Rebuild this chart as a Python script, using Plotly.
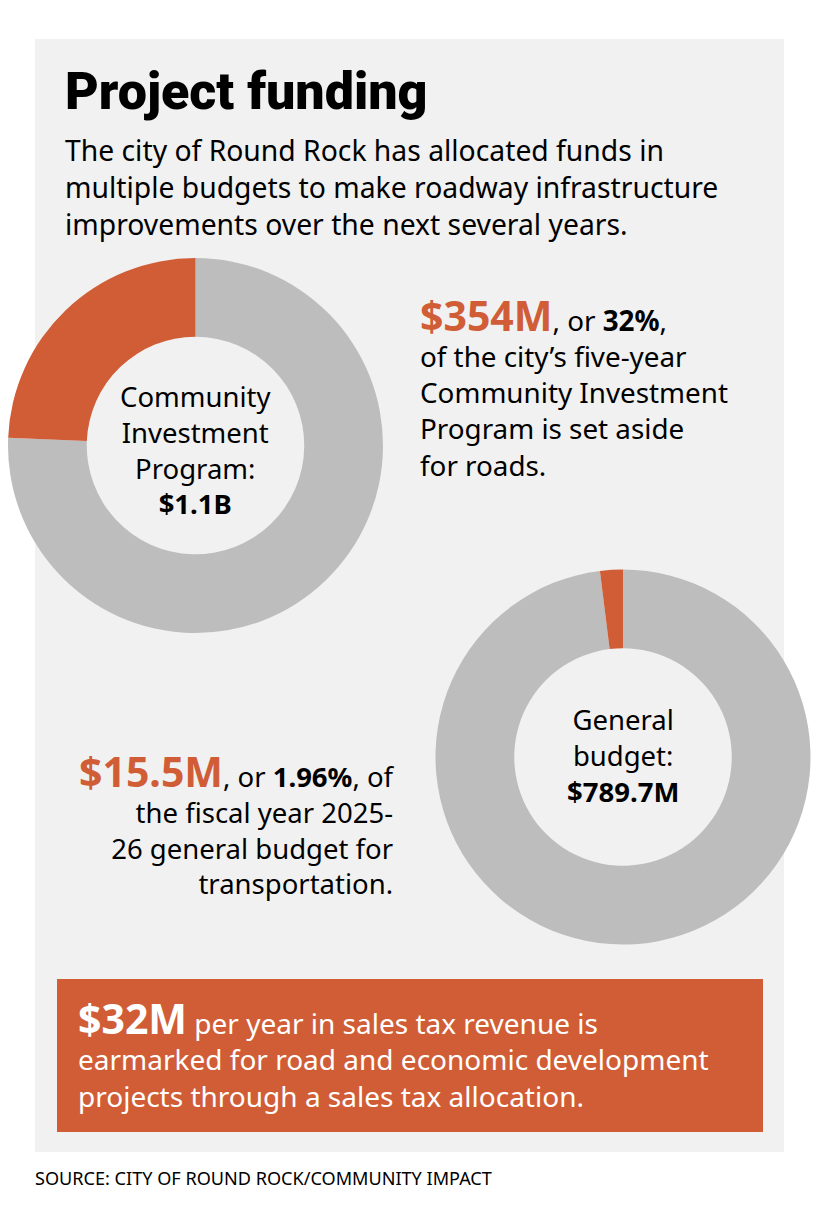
import plotly.graph_objects as go

W, H = 830, 1228
ORANGE = "#D05D36"
GRAY = "#BDBDBD"
PANEL = "#F1F1F1"
HEAD = "Roboto, Noto Sans, sans-serif"
BODY = "Noto Sans, Open Sans, sans-serif"

# ---- data (millions of dollars) ----
cip_labels = ["Other", "Roads"]
cip_values = [1100, 354]          # slice as drawn in the graphic
gen_labels = ["Other", "Transportation"]
gen_values = [774.2, 15.5]        # $15.5M of $789.7M
slice_colors = [GRAY, ORANGE]

title = "Project funding"
subtitle_lines = [
    "The city of Round Rock has allocated funds in",
    "multiple budgets to make roadway infrastructure",
    "improvements over the next several years.",
]
cip_center = ["Community", "Investment", "Program:", "<b>$1.1B</b>"]
gen_center = ["General", "budget:", "<b>$789.7M</b>"]
cip_note_lines = ["of the city’s five-year", "Community Investment",
                  "Program is set aside", "for roads."]
gen_note_lines = ["the fiscal year 2025-", "26 general budget for", "transportation."]
box_lines = ["per year in sales tax revenue is",
             "earmarked for road and economic development",
             "projects through a sales tax allocation."]
source = "SOURCE: CITY OF ROUND ROCK/COMMUNITY IMPACT"


def fx(x):
    return x / W


def fy(y):
    return 1 - y / H


def dom(cx, cy, r):
    return dict(x=[fx(cx - r), fx(cx + r)], y=[fy(cy + r), fy(cy - r)])


fig = go.Figure()
fig.add_trace(go.Pie(labels=cip_labels, values=cip_values, hole=0.58, sort=False,
                     direction="counterclockwise", rotation=0,
                     marker=dict(colors=slice_colors, line=dict(width=0)),
                     textinfo="none", hoverinfo="label+value",
                     domain=dom(195.5, 445.5, 187.5), showlegend=False))
fig.add_trace(go.Pie(labels=gen_labels, values=gen_values, hole=0.58, sort=False,
                     direction="counterclockwise", rotation=0,
                     marker=dict(colors=slice_colors, line=dict(width=0)),
                     textinfo="none", hoverinfo="label+value",
                     domain=dom(623, 757, 187.5), showlegend=False))

shapes = [
    dict(type="rect", xref="paper", yref="paper", x0=fx(35), x1=fx(784),
         y0=fy(1152), y1=fy(39), fillcolor=PANEL, line=dict(width=0), layer="below"),
    dict(type="rect", xref="paper", yref="paper", x0=fx(57), x1=fx(763),
         y0=fy(1132), y1=fy(979), fillcolor=ORANGE, line=dict(width=0), layer="below"),
]

ann = []


def add(text, x, y, size, family=BODY, color="black", xanchor="left", align="left",
        weight="normal"):
    ann.append(dict(text=text, x=fx(x), y=fy(y), xref="paper", yref="paper",
                    xanchor=xanchor, yanchor="middle", align=align, showarrow=False,
                    font=dict(size=size, family=family, color=color, weight=weight)))


add(title, 63, 91, 52, HEAD, weight=900)
add("<br>".join(subtitle_lines), 63, 187, 28.3)

add("<br>".join(cip_center), 195.5, 450, 27.5, xanchor="center", align="center")
add("<br>".join(gen_center), 623, 755, 27.5, xanchor="center", align="center")

cip_block = [f"<span style='color:{ORANGE};font-size:41px'><b>${cip_values[1]}M</b></span>, or <b>32%</b>,"] + cip_note_lines
add("<br>".join(cip_block), 418, 385, 27.8)

gen_block = [f"<span style='color:{ORANGE};font-size:41px'><b>${gen_values[1]}M</b></span>, or <b>1.96%</b>, of"] + gen_note_lines
add("<br>".join(gen_block), 397, 822, 27.5, xanchor="right", align="right")

box_block = [f"<span style='font-size:41px'><b>$32M</b></span> {box_lines[0]}"] + box_lines[1:]
add("<br>".join(box_block), 76, 1052, 28, BODY, "white")

add(source, 33, 1178, 18.1)

fig.update_layout(width=W, height=H, margin=dict(l=0, r=0, t=0, b=0),
                  paper_bgcolor="white", plot_bgcolor="white",
                  shapes=shapes, annotations=ann, showlegend=False)
fig.write_html("out.html")
